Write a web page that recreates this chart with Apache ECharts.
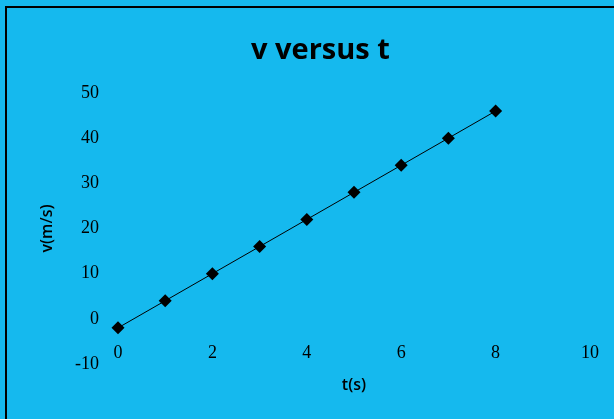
<!DOCTYPE html>
<html>
<head>
<meta charset="utf-8">
<script src="https://cdn.jsdelivr.net/npm/echarts@6/dist/echarts.min.js"></script>
<style>
  html, body { margin: 0; padding: 0; background: #15B9EE; }
  #chart { width: 614px; height: 419px; }
</style>
</head>
<body>
<div id="chart"></div>
<script>
// Time (s) and velocity (m/s) samples
const times = [0, 1, 2, 3, 4, 5, 6, 7, 8];
const velocities = [-2, 4, 10, 16, 22, 28, 34, 40, 46];

const chart = echarts.init(document.getElementById('chart'));

const points = times.map((t, i) => [t, velocities[i]]);

chart.setOption({
  backgroundColor: '#15B9EE',
  animation: false,
  title: {
    text: 'v versus t',
    left: 246,
    top: 31,
    textStyle: {
      fontFamily: 'Open Sans',
      fontWeight: 'bold',
      fontSize: 29,
      color: '#000'
    }
  },
  graphic: [{
    type: 'rect',
    shape: { x: 6, y: 7, width: 700, height: 500 },
    style: { fill: 'none', stroke: '#000', lineWidth: 2 },
    silent: true
  }],
  grid: { left: 118, right: 24, top: 93, bottom: 55, outerBoundsMode: 'none', containLabel: false },
  xAxis: {
    type: 'value',
    min: 0, max: 10, interval: 2,
    // shift the axis up so it runs along v = 0
    offset: -44,
    name: 't(s)',
    nameLocation: 'middle',
    nameGap: 57,
    nameTextStyle: { fontFamily: 'Open Sans', fontWeight: 600, fontSize: 16, color: '#000', letterSpacing: 1 },
    axisLine: { show: false, onZero: false },
    axisTick: { show: false },
    splitLine: { show: false },
    axisLabel: {
      margin: 24,
      fontFamily: 'Liberation Serif',
      fontSize: 18,
      color: '#000'
    }
  },
  yAxis: {
    type: 'value',
    min: -10, max: 50, interval: 10,
    name: 'v(m/s)',
    nameLocation: 'middle',
    nameGap: 63,
    nameTextStyle: { fontFamily: 'Open Sans', fontWeight: 600, fontSize: 16, color: '#000', letterSpacing: 1 },
    axisLine: { show: false },
    axisTick: { show: false },
    splitLine: { show: false },
    axisLabel: {
      margin: 19,
      fontFamily: 'Liberation Serif',
      fontSize: 18,
      color: '#000'
    }
  },
  series: [{
    type: 'line',
    data: points,
    symbol: 'diamond',
    symbolSize: 13,
    itemStyle: { color: '#000' },
    lineStyle: { color: '#000', width: 1 }
  }]
});
</script>
</body>
</html>
